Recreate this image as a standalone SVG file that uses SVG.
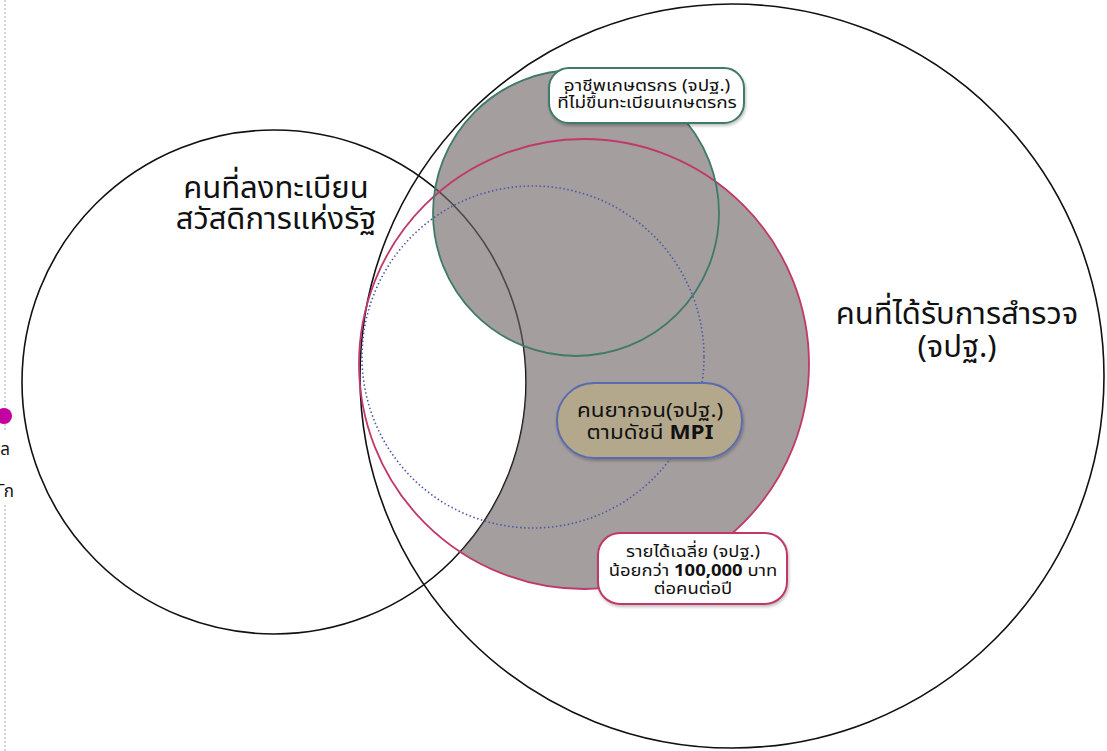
<svg xmlns="http://www.w3.org/2000/svg" width="1107" height="751" viewBox="0 0 1107 751">
<style>
.t{font-family:"Noto Sans Thai","Noto Sans","DejaVu Sans",sans-serif;fill:#111;text-anchor:middle}
.big{font-size:31px}
.sm{font-size:16.5px}
.md{font-size:19.5px}
.ring{fill:none;stroke:#111;stroke-width:1.6}
.box{fill:#fff;stroke-width:2}
</style>
<defs>
<mask id="noLeft">
<rect x="0" y="0" width="1107" height="751" fill="#fff"/>
<circle cx="274" cy="382" r="252" fill="#000"/>
</mask>
<filter id="sh" x="-20%" y="-20%" width="140%" height="150%">
<feDropShadow dx="1" dy="2" stdDeviation="1.5" flood-color="#000" flood-opacity="0.25"/>
</filter>
</defs>
<rect width="1107" height="751" fill="#fff"/>
<g id="side">
<line x1="5" y1="0" x2="5" y2="432" stroke="#bbb" stroke-width="1.2" stroke-dasharray="2,2"/>
<line x1="5" y1="505" x2="5" y2="751" stroke="#bbb" stroke-width="1.2" stroke-dasharray="2,2"/>
<circle cx="4" cy="416" r="8" fill="#c400a0"/>
<text class="t" x="10" y="455" style="text-anchor:end;font-size:17px">ล</text>
<text class="t" x="14" y="497" style="text-anchor:end;font-size:17px">ัก</text>
</g>
<g id="left-circle"><circle cx="274" cy="382" r="252" class="ring"/></g>
<g id="fills" opacity="0.63">
<circle cx="584" cy="364" r="225" fill="#706767" mask="url(#noLeft)"/>
<circle cx="576" cy="213" r="143" fill="#706767"/>
</g>
<g id="big-circle"><circle cx="732" cy="376" r="372" class="ring"/></g>
<g id="pink-circle"><circle cx="584" cy="364" r="225" fill="none" stroke="#c0396b" stroke-width="1.8"/></g>
<g id="green-circle"><circle cx="576" cy="213" r="143" fill="none" stroke="#3f7a6a" stroke-width="1.8"/></g>
<g id="blue-circle"><circle cx="533" cy="357" r="171" fill="none" stroke="#4a5aa8" stroke-width="1.6" stroke-dasharray="1.5,2.5"/></g>
<g id="title-left">
<text class="t big" x="276" y="198">คนที่ลงทะเบียน</text>
<text class="t big" x="276" y="229">สวัสดิการแห่งรัฐ</text>
</g>
<g id="title-right">
<text class="t big" x="957" y="324">คนที่ได้รับการสำรวจ</text>
<text class="t big" x="957" y="357">(จปฐ.)</text>
</g>
<g id="label-farmer">
<rect x="549" y="68" width="195" height="55" rx="20" class="box" stroke="#3f7a6a" filter="url(#sh)"/>
<text class="t sm" transform="translate(647 91) scale(1.15 1)">อาชีพเกษตรกร (จปฐ.)</text>
<text class="t sm" transform="translate(647 108) scale(1.15 1)">ที่ไม่ขึ้นทะเบียนเกษตรกร</text>
</g>
<g id="label-mpi">
<rect x="557" y="383" width="185" height="75" rx="37" fill="#b3a88c" stroke="#5b6bb0" stroke-width="2" filter="url(#sh)"/>
<text class="t md" transform="translate(650 417) scale(1.15 1)">คนยากจน(จปฐ.)</text>
<text class="t md" transform="translate(650 439) scale(1.15 1)">ตามดัชนี <tspan font-weight="bold">MPI</tspan></text>
</g>
<g id="label-income">
<rect x="598" y="533" width="189" height="71" rx="22" class="box" stroke="#c0396b" filter="url(#sh)"/>
<text class="t sm" transform="translate(693 557) scale(1.12 1)">รายได้เฉลี่ย (จปฐ.)</text>
<text class="t sm" transform="translate(693 576) scale(1.12 1)">น้อยกว่า <tspan font-weight="bold">100,000</tspan> บาท</text>
<text class="t sm" transform="translate(693 594) scale(1.12 1)">ต่อคนต่อปี</text>
</g>
</svg>
